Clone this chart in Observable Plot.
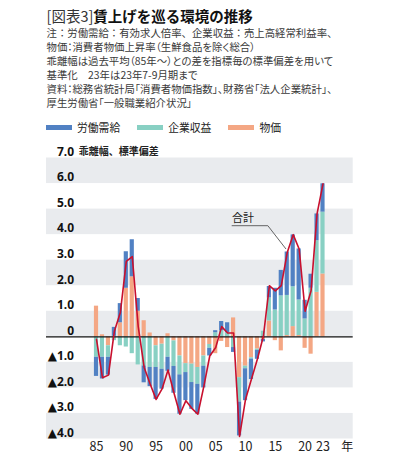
<!DOCTYPE html>
<html lang="ja">
<head>
<meta charset="utf-8">
<script src="https://cdn.jsdelivr.net/npm/d3@7"></script>
<script src="https://cdn.jsdelivr.net/npm/@observablehq/plot@0.6"></script>
<style>
  html, body { margin: 0; padding: 0; background: #fff; }
  body { font-family: "Noto Sans CJK JP", "Noto Sans", sans-serif; }
  #wrap { width: 396px; height: 470px; position: relative; overflow: hidden; }
  #header { position: relative; height: 140px; }
  .ln { position: absolute; left: 46.5px; white-space: nowrap; }
  .title { top: 6px; font-size: 14.5px; line-height: 20px; }
  .title .pre { font-weight: 400; color: #333; }
  .title .main { font-weight: 700; color: #111; }
  .note { font-size: 10.4px; line-height: 14px; color: #3a3a3a; }
  .palt { font-feature-settings: "palt"; }
  #legend { position: absolute; left: 46px; top: 120px; height: 14px; display: flex; align-items: center; font-size: 10.8px; color: #222; line-height: 14px; }
  #legend .item { display: flex; align-items: center; margin-right: 17px; }
  #legend .sw { width: 26px; height: 5px; margin-right: 5px; }
  #chart svg { display: block; }
</style>
</head>
<body>
<div id="wrap">
  <div id="header">
    <div class="ln title"><span class="pre">[図表3]</span><span class="main">賃上げを巡る環境の推移</span></div>
    <div class="ln note" style="top:26.3px">注：労働需給：有効求人倍率、企業収益：売上高経常利益率、</div>
    <div class="ln note palt" style="top:40.3px">物価：消費者物価上昇率（生鮮食品を除く総合）</div>
    <div class="ln note palt" style="top:54.3px">乖離幅は過去平均（85年～）との差を指標毎の標準偏差を用いて</div>
    <div class="ln note palt" style="top:68.3px">基準化　23年は23年7-9月期まで</div>
    <div class="ln note palt" style="top:82.3px">資料：総務省統計局「消費者物価指数」、財務省「法人企業統計」、</div>
    <div class="ln note palt" style="top:96.3px">厚生労働省「一般職業紹介状況」</div>
    <div id="legend"></div>
  </div>
  <div id="chart"></div>
</div>
<script>
// ---- data (standardized deviation) ----
const years = d3.range(1985, 2024);

// 物価 (consumer prices)
const price = [
  1.20, 0.08, -0.35, 0.02, 0.55, 1.90, 2.35, 1.00, 0.63, 0.15,
  -0.35, -0.29, 0.12, -0.16, -0.75, -1.05, -1.07, -1.20, -0.75, -0.30,
  -0.66, -0.18, -0.42, 0.74, -1.60, -1.15, -0.82, -0.48, -0.10, 0.62,
  -0.15, -0.55, 0.05, 0.40, 0.05, -0.45, -0.68, 1.74, 2.46
];
// 企業収益 (corporate profits)
const profit = [
  -0.80, -0.80, -0.45, -0.15, -0.35, -0.40, -0.66, -1.10, -1.14, -1.20,
  -0.85, -0.98, -0.80, -1.00, -0.74, -0.35, -0.72, -0.66, -0.40, -0.15,
  0.16, 0.24, 0.17, -0.42, -0.95, -0.10, -0.05, -0.05, 0.22, 0.90,
  1.05, 1.60, 1.57, 1.56, 1.39, 0.70, 1.90, 2.02, 2.42
];
// 労働需給 (labour market)
const labor = [
  -0.75, -0.85, -0.70, 0.35, 0.75, 1.43, 1.45, 0.50, -0.66, -0.75,
  -1.25, -0.78, -0.55, -1.05, -1.54, -1.10, -1.05, -1.17, -0.85, -0.30,
  0.08, 0.36, 0.38, -0.19, -1.33, -1.25, -0.80, -0.35, -0.10, 0.45,
  0.85, 1.00, 1.70, 2.03, 2.00, 0.73, 0.55, 1.05, 1.11
];
// 合計 (total line)
const total = [
  -0.10, -1.60, -1.50, 0.22, 0.95, 2.95, 3.14, 0.40, -1.20, -1.85,
  -2.45, -2.04, -1.30, -2.20, -3.03, -2.50, -2.80, -3.03, -1.95, -0.75,
  -0.42, 0.40, 0.15, 0.15, -3.90, -2.45, -1.65, -0.87, 0.02, 2.00,
  1.80, 2.00, 3.30, 4.00, 3.44, 1.00, 1.80, 4.81, 5.99
];

const seriesNames = ["労働需給", "企業収益", "物価"];
const seriesColors = ["#5181c3", "#88d0c3", "#f4a784"];
const yTicks = [7, 6, 5, 4, 3, 2, 1, 0, -1, -2, -3, -4];
const xTicks = [1985, 1990, 1995, 2000, 2005, 2010, 2015, 2020, 2023];
const yAxisTitle = "乖離幅、標準偏差";
const xAxisUnit = "年";
const totalLabel = "合計";
// annotation leader (year, value) and label anchor
const leader = [
  {year: 2008, value: 4.35},
  {year: 2014, value: 4.35},
  {year: 2017, value: 3.45}
];
const leaderLabel = [{year: 2008, value: 4.63, label: totalLabel}];

// ---- legend (HTML) ----
const legend = d3.select("#legend");
seriesNames.forEach((name, i) => {
  const it = legend.append("div").attr("class", "item");
  it.append("div").attr("class", "sw").style("background", seriesColors[i]);
  it.append("span").text(name);
});

// ---- tables built from arrays ----
const rows = years.flatMap((yr, i) => [
  {year: yr, kind: "物価", value: price[i]},
  {year: yr, kind: "企業収益", value: profit[i]},
  {year: yr, kind: "労働需給", value: labor[i]}
]);
const totals = years.map((yr, i) => ({year: yr, value: total[i]}));
const bands = yTicks.slice(0, -1)
  .filter((d, i) => i % 2 === 0)
  .map(d => ({y1: d, y2: d - 1}));

const fmtY = d => d === 0 ? "0" : (d < 0 ? "▲" + (-d).toFixed(1) : d.toFixed(1));
const font = "'Noto Sans CJK JP', 'Noto Sans', sans-serif";
const tickFont = "'Noto Sans', 'DejaVu Sans', 'Noto Sans CJK JP', sans-serif";

const chart = Plot.plot({
  width: 396,
  height: 330,
  marginTop: 17.5,
  marginBottom: 31.5,
  marginLeft: 46,
  marginRight: 43.3,
  style: {fontFamily: font, background: "transparent", overflow: "visible"},
  x: {type: "band", domain: years, range: [93.02, 325.48], paddingInner: 0.3, paddingOuter: 0.15},
  y: {domain: [-4, 7]},
  color: {domain: seriesNames, range: seriesColors},
  marks: [
    Plot.rectY(bands, {y1: "y1", y2: "y2", fill: "#e9ebee"}),
    Plot.barY(rows, {x: "year", y: "value", fill: "kind"}),
    Plot.ruleY([0], {stroke: "#111", strokeWidth: 1.2}),
    Plot.line(totals, {x: "year", y: "value", stroke: "#c8102e", strokeWidth: 1.6}),
    Plot.line(leader, {x: "year", y: "value", stroke: "#555", strokeWidth: 0.9, dx: -1.5}),
    Plot.text(leaderLabel, {x: "year", y: "value", text: "label", textAnchor: "start", dx: -1.5,
      fontSize: 11, fill: "#222", fontFamily: font}),
    Plot.axisY({ticks: yTicks, tickFormat: fmtY, tickSize: 0, tickPadding: -27.5, dy: -6,
      fontSize: 12, fontWeight: 700, fill: "#111", label: null, fontFamily: tickFont}),
    Plot.axisX({ticks: xTicks, tickFormat: d => String(d).slice(2), tickSize: 0, tickPadding: 3,
      fontSize: 12.5, fill: "#222", label: null, fontFamily: font}),
    Plot.text([xAxisUnit], {text: d => d, frameAnchor: "bottom-right", textAnchor: "middle",
      lineAnchor: "middle", dx: -6, dy: 8.2, fontSize: 12, fill: "#222", fontFamily: font}),
    Plot.text([yAxisTitle], {text: d => d, frameAnchor: "top-left", textAnchor: "start",
      lineAnchor: "middle", dx: 32.3, dy: -5.8, fontSize: 10, fontWeight: 700, fill: "#222", fontFamily: font})
  ]
});
document.getElementById("chart").appendChild(chart);
</script>
</body>
</html>
